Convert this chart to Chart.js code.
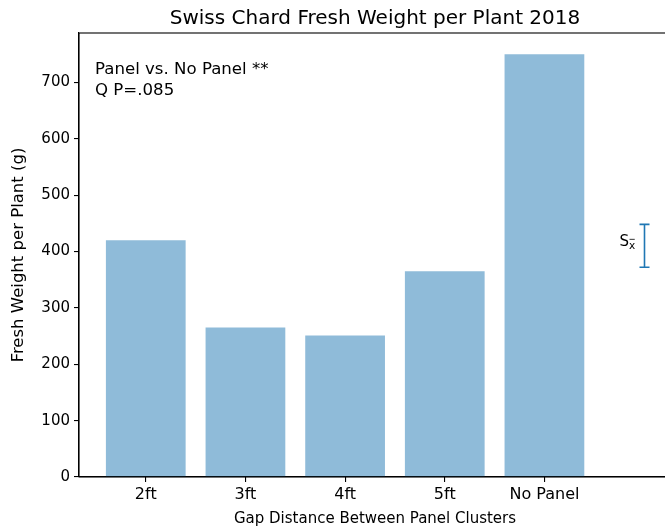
<!DOCTYPE html>
<html>
<head>
<meta charset="utf-8">
<script src="https://cdn.jsdelivr.net/npm/chart.js@4"></script>
<style>
html,body{margin:0;padding:0;background:#fff;overflow:hidden;width:665px;height:529px;}
#wrap{width:700px;height:529px;position:relative;}
</style>
</head>
<body>
<div id="wrap"><canvas id="c" width="700" height="529"></canvas></div>
<script>
const categories = ['2ft', '3ft', '4ft', '5ft', 'No Panel'];
const weights = [420, 265, 251, 365, 750];
const errCenter = 410;
const errHalf = 38;
const errX = 5;
const yTicks = [0, 100, 200, 300, 400, 500, 600, 700];
const titleText = 'Swiss Chard Fresh Weight per Plant 2018';
const noteLines = ['Panel vs. No Panel **', 'Q P=.085'];

const FONT = 'DejaVu Sans';
const barData = categories.map((c, i) => ({x: i, y: weights[i]}));

const framePlugin = {
  id: 'frame',
  afterDraw(chart) {
    const {ctx, chartArea: a, scales: {x, y}} = chart;
    ctx.save();
    ctx.strokeStyle = '#000';
    ctx.lineWidth = 1.1;
    ctx.strokeRect(a.left, a.top, a.right - a.left, a.bottom - a.top);
    // title centred over the axes
    ctx.fillStyle = '#000';
    ctx.font = '20px "' + FONT + '"';
    ctx.textAlign = 'center';
    ctx.textBaseline = 'alphabetic';
    ctx.fillText(titleText, (a.left + a.right) / 2, 24);
    // error bar
    const px = Math.round(x.getPixelForValue(errX)) + 0.5;
    const yt = y.getPixelForValue(errCenter + errHalf);
    const yb = y.getPixelForValue(errCenter - errHalf);
    ctx.strokeStyle = '#1f77b4';
    ctx.lineWidth = 1.6;
    ctx.beginPath();
    ctx.moveTo(px, yt); ctx.lineTo(px, yb);
    ctx.moveTo(px - 5, yt); ctx.lineTo(px + 5, yt);
    ctx.moveTo(px - 5, yb); ctx.lineTo(px + 5, yb);
    ctx.stroke();
    // S_xbar label
    const yc = y.getPixelForValue(errCenter);
    ctx.textAlign = 'left';
    ctx.font = '15px "' + FONT + '"';
    const sx = px - 25;
    ctx.fillText('S', sx, yc);
    const sw = ctx.measureText('S').width;
    ctx.font = '10.5px "' + FONT + '"';
    ctx.fillText('x', sx + sw, yc + 3);
    const xw = ctx.measureText('x').width;
    ctx.lineWidth = 0.8;
    ctx.strokeStyle = '#000';
    ctx.beginPath();
    ctx.moveTo(sx + sw + 0.5, yc - 6.5);
    ctx.lineTo(sx + sw + xw - 0.5, yc - 6.5);
    ctx.stroke();
    // note text
    ctx.font = '16.6px "' + FONT + '"';
    ctx.fillText(noteLines[0], a.left + 16, a.top + 41);
    ctx.fillText(noteLines[1], a.left + 16, a.top + 62);
    ctx.restore();
  }
};

new Chart(document.getElementById('c'), {
  type: 'bar',
  data: {
    datasets: [{
      data: barData,
      backgroundColor: 'rgba(31,119,180,0.5)',
      borderWidth: 0,
      barPercentage: 0.8,
      categoryPercentage: 1.0
    }]
  },
  options: {
    responsive: false,
    animation: false,
    events: [],
    layout: {padding: {left: 0, right: 29, top: 33, bottom: 0}},
    plugins: {
      legend: {display: false},
      tooltip: {enabled: false},
      title: {display: false}
    },
    scales: {
      x: {
        type: 'linear',
        min: -0.67,
        max: 5.27,
        offset: false,
        afterBuildTicks(scale) {
          scale.ticks = categories.map((c, i) => ({value: i}));
        },
        afterFit(scale) { scale.height = 52; },
        ticks: {
          autoSkip: false,
          maxRotation: 0,
          color: '#000',
          padding: 3,
          font: {family: FONT, size: 16},
          callback: (v) => categories[v] !== undefined ? categories[v] : ''
        },
        grid: {drawOnChartArea: false, offset: false, tickLength: 5, color: '#000', lineWidth: 1.1},
        border: {display: true, color: '#000', width: 1.1},
        title: {
          display: true,
          text: 'Gap Distance Between Panel Clusters',
          color: '#000',
          font: {family: FONT, size: 15},
          padding: {top: 0, bottom: 1}
        }
      },
      y: {
        type: 'linear',
        min: 0,
        max: 787.5,
        afterBuildTicks(scale) {
          scale.ticks = yTicks.map(v => ({value: v}));
        },
        afterFit(scale) { scale.width = 79; },
        ticks: {
          color: '#000',
          padding: 4,
          font: {family: FONT, size: 15}
        },
        grid: {drawOnChartArea: false, tickLength: 5, color: '#000', lineWidth: 1.1},
        border: {display: true, color: '#000', width: 1.1},
        title: {
          display: true,
          text: 'Fresh Weight per Plant (g)',
          color: '#000',
          font: {family: FONT, size: 16.5},
          padding: {top: 9, bottom: 0}
        }
      }
    }
  },
  plugins: [framePlugin]
});
</script>
</body>
</html>
